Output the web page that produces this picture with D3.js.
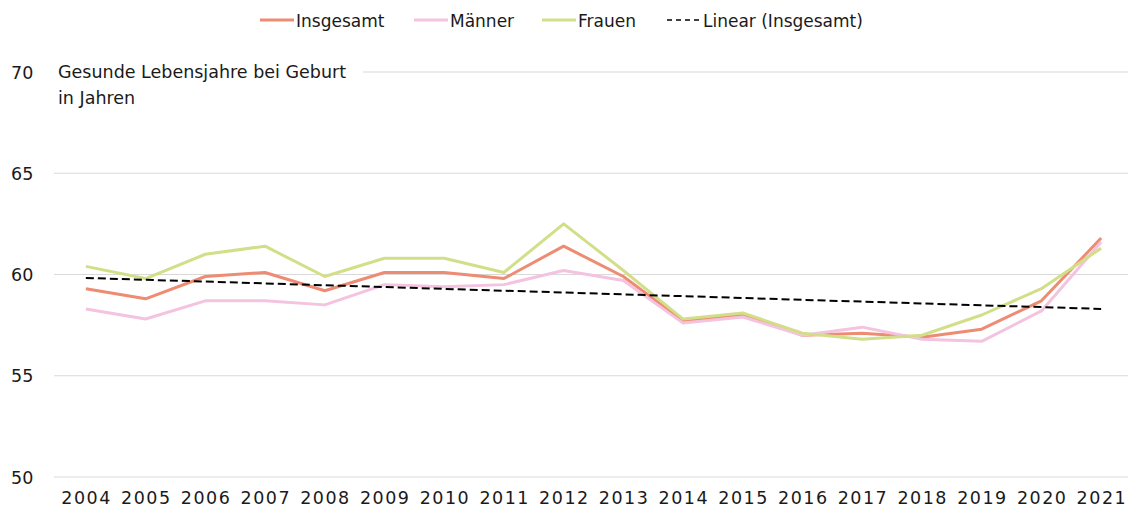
<!DOCTYPE html>
<html>
<head>
<meta charset="utf-8">
<script src="https://cdn.jsdelivr.net/npm/d3@7"></script>
<style>
  html, body { margin: 0; padding: 0; background: #fff; }
  svg text { font-family: "DejaVu Sans", sans-serif; fill: #1a1a1a; }
</style>
</head>
<body>
<svg id="chart" width="1128" height="511"></svg>
<script>
// data
const years = ["2004","2005","2006","2007","2008","2009","2010","2011","2012",
               "2013","2014","2015","2016","2017","2018","2019","2020","2021"];
const insgesamt = [59.3, 58.8, 59.9, 60.1, 59.2, 60.1, 60.1, 59.8, 61.4,
                   59.9, 57.7, 58.0, 57.0, 57.1, 56.9, 57.3, 58.7, 61.8];
const maenner   = [58.3, 57.8, 58.7, 58.7, 58.5, 59.5, 59.4, 59.5, 60.2,
                   59.7, 57.6, 57.9, 57.0, 57.4, 56.8, 56.7, 58.2, 61.6];
const frauen    = [60.4, 59.8, 61.0, 61.4, 59.9, 60.8, 60.8, 60.1, 62.5,
                   60.2, 57.8, 58.1, 57.1, 56.8, 57.0, 58.0, 59.3, 61.3];
// linear trend of Insgesamt, first and last year
const trendYears = ["2004", "2021"];
const trendValues = [59.83, 58.3];
const yTicks = [50, 55, 60, 65, 70];

const series = [
  { name: "Insgesamt", values: insgesamt, color: "#ee8b73" },
  { name: "Männer", values: maenner, color: "#f3c3e0" },
  { name: "Frauen", values: frauen, color: "#d3df88" }
];

const svg = d3.select("#chart");

const x = d3.scalePoint().domain(years).range([56, 1131]).padding(0.5);
const y = d3.scaleLinear().domain([50, 70]).range([477, 72]);

// gridlines (the top one stops short of the title)
svg.append("g").selectAll("line")
  .data(yTicks)
  .join("line")
  .attr("x1", d => d === 70 ? 363 : 54)
  .attr("x2", 1128)
  .attr("y1", d => y(d))
  .attr("y2", d => y(d))
  .attr("stroke", "#d9d9d9")
  .attr("stroke-width", 1);

// y tick labels
svg.append("g").selectAll("text")
  .data(yTicks)
  .join("text")
  .attr("x", 11)
  .attr("y", d => y(d) + 6.5)
  .attr("font-size", 17.5)
  .text(d => d);

// x tick labels
svg.append("g").selectAll("text")
  .data(years)
  .join("text")
  .attr("x", d => x(d) + 0.75)
  .attr("y", 504)
  .attr("text-anchor", "middle")
  .attr("font-size", 17.5)
  .attr("letter-spacing", 1.5)
  .text(d => d);

// axis title
const title = svg.append("text").attr("x", 58).attr("y", 78).attr("font-size", 17.5);
title.append("tspan").text("Gesunde Lebensjahre bei Geburt");
title.append("tspan").attr("x", 58).attr("dy", 26).text("in Jahren");

// lines
const line = d3.line()
  .x((d, i) => x(years[i]))
  .y(d => y(d));

series.forEach(s => {
  svg.append("path")
    .datum(s.values)
    .attr("fill", "none")
    .attr("stroke", s.color)
    .attr("stroke-width", 3)
    .attr("stroke-linejoin", "round")
    .attr("d", line);
});

// trend line
svg.append("path")
  .datum(trendValues)
  .attr("fill", "none")
  .attr("stroke", "#000")
  .attr("stroke-width", 2)
  .attr("stroke-dasharray", "8,4")
  .attr("d", d3.line().x((d, i) => x(trendYears[i])).y(d => y(d)));

// legend
const legendItems = [
  { name: "Insgesamt", color: "#ee8b73", x: 260, dash: null },
  { name: "Männer", color: "#f3c3e0", x: 414, dash: null },
  { name: "Frauen", color: "#d3df88", x: 542, dash: null },
  { name: "Linear (Insgesamt)", color: "#000", x: 667, dash: "5,4" }
];
const lg = svg.append("g").selectAll("g")
  .data(legendItems)
  .join("g")
  .attr("transform", d => `translate(${d.x},20)`);
lg.append("line")
  .attr("x1", 0).attr("x2", 34)
  .attr("stroke", d => d.color)
  .attr("stroke-width", d => d.dash ? 1.5 : 3)
  .attr("stroke-dasharray", d => d.dash);
lg.append("text")
  .attr("x", 36)
  .attr("y", 6.5)
  .attr("font-size", 17)
  .text(d => d.name);
</script>
</body>
</html>
